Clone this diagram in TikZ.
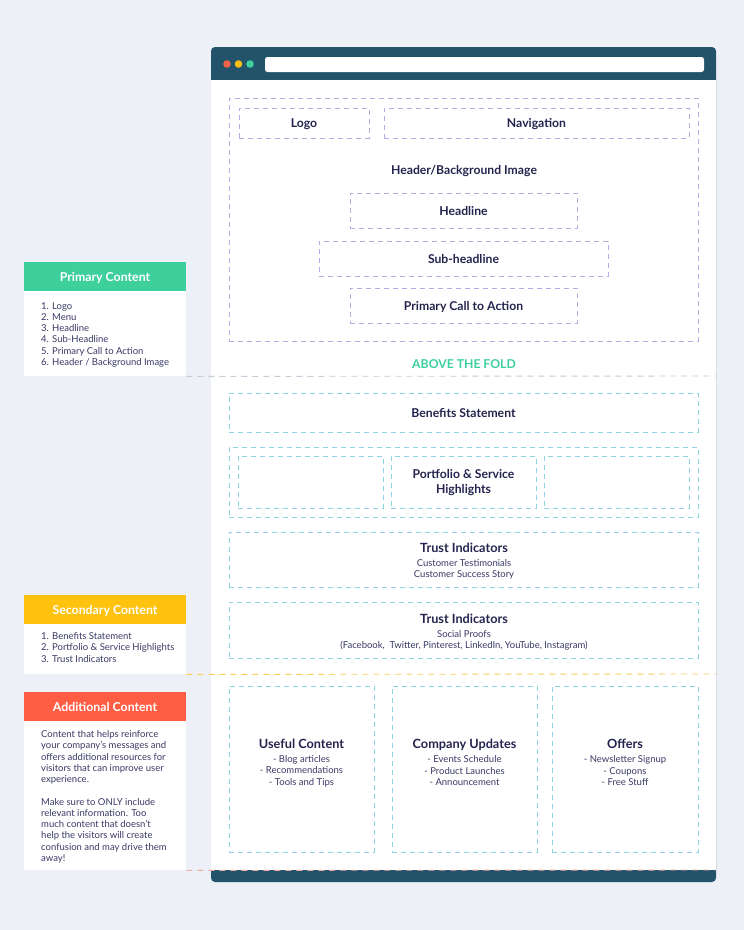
\documentclass[tikz,border=0pt]{standalone}
\usepackage{fontspec}
\setmainfont{Lato}
\definecolor{bgc}{HTML}{EEF0F8}
\definecolor{navy}{HTML}{23526B}
\definecolor{ink}{HTML}{25244F}
\definecolor{inks}{HTML}{3A3A66}
\definecolor{purp}{HTML}{B3ACE4}
\definecolor{cyanl}{HTML}{8ED4E0}
\definecolor{gprim}{HTML}{3DD09C}
\definecolor{ysec}{HTML}{FFC20E}
\definecolor{radd}{HTML}{FF5E45}
\definecolor{dred}{HTML}{F0604A}
\definecolor{dyel}{HTML}{F5C117}
\definecolor{foldg}{HTML}{C8CBD8}
\definecolor{foldy}{HTML}{F7CF5A}
\definecolor{foldr}{HTML}{F2A9A0}
\begin{document}
\begin{tikzpicture}[x=1pt,y=-1pt,
  dsh/.style={dash pattern=on 5pt off 4pt, line width=0.8pt},
  pbox/.style={draw=purp, dsh, text=ink, inner sep=0pt, text depth=0pt, font=\bfseries\fontsize{12.2}{14}\selectfont},
  cbox/.style={draw=cyanl, dsh, text=ink, inner sep=0pt, align=center, font=\bfseries\fontsize{12.2}{14.5}\selectfont},
  ttl/.style={text=ink, inner sep=0pt, align=center, text depth=0pt, font=\bfseries\fontsize{12.7}{15}\selectfont},
  sub/.style={text=inks, inner sep=0pt, align=center, font=\fontsize{9.5}{11.5}\selectfont},
  phead/.style={text=white, inner sep=0pt, text depth=0pt, minimum width=162, minimum height=29.5, font=\bfseries\fontsize{12.3}{14}\selectfont},
  pbody/.style={fill=white, inner sep=0pt, minimum width=162, anchor=north west},
  ptext/.style={text=inks, inner sep=0pt, anchor=north west, align=left, font=\fontsize{9.5}{11.25}\selectfont}
]
\fill[bgc] (0,0) rectangle (744,930);
\useasboundingbox (0,0) rectangle (744,930);
% browser window
\fill[navy, rounded corners=4] (211,47) rectangle (716,882);
\fill[white] (211,80) rectangle (716,870);
\fill[dred] (227,64) circle (3.8);
\fill[dyel] (238.5,64) circle (3.8);
\fill[gprim] (250,64) circle (3.8);
\fill[white, rounded corners=2.5] (265,57) rectangle (704,72);

% header area
\node[pbox, minimum width=469, minimum height=243] (hdr) at (463.5,219.5) {};
\node[pbox, minimum width=130, minimum height=30] (logo) at (304,123) {Logo};
\node[pbox, minimum width=305, minimum height=30] (nav) at (536.5,123) {Navigation};
\node[ttl, font=\bfseries\fontsize{12.2}{14}\selectfont] (hbg) at (464,169.5) {Header/Background Image};
\node[pbox, minimum width=227, minimum height=35] (head) at (463.5,210.5) {Headline};
\node[pbox, minimum width=289, minimum height=35] (subh) at (463.5,258.5) {Sub-headline};
\node[pbox, minimum width=227, minimum height=35] (cta) at (463.5,305.5) {Primary Call to Action};
\node[text=gprim, inner sep=0pt, text depth=0pt, font=\bfseries\fontsize{12.2}{14}\selectfont] (fold) at (464,364.5) {ABOVE THE FOLD};

% secondary area
\node[cbox, text depth=0pt, minimum width=469, minimum height=39] (ben) at (463.5,412.5) {Benefits Statement};
\node[cbox, minimum width=469, minimum height=70] (port) at (463.5,482) {};
\node[cbox, minimum width=145, minimum height=52] (pl) at (310.5,482) {};
\node[cbox, minimum width=145, minimum height=52] (pm) at (463.5,482) {};
\node[cbox, minimum width=145, minimum height=52] (pr) at (616.5,482) {};
\node[ttl, font=\bfseries\fontsize{12.2}{15}\selectfont] (pmt) at (463.5,481.5) {Portfolio \& Service\\Highlights};
\node[cbox, minimum width=469, minimum height=55] (tr1) at (463.5,559.5) {};
\node[ttl] (tr1t) at (464,547.5) {Trust Indicators};
\node[sub] (tr1s) at (464,569.5) {Customer Testimonials\\Customer Success Story};
\node[cbox, minimum width=469, minimum height=56] (tr2) at (463.5,630) {};
\node[ttl] (tr2t) at (464,618.5) {Trust Indicators};
\node[sub] (tr2s) at (464,640.5) {Social Proofs\\(Facebook,\enspace Twitter, Pinterest, LinkedIn, YouTube, Instagram)};

% additional area
\node[cbox, minimum width=145, minimum height=166] (a1) at (301.5,769) {};
\node[cbox, minimum width=145, minimum height=166] (a2) at (464.5,769) {};
\node[cbox, minimum width=146, minimum height=166] (a3) at (625,769) {};
\node[ttl] (a1t) at (301.5,744) {Useful Content};
\node[sub] (a1s) at (301.5,771) {- Blog articles\\- Recommendations\\- Tools and Tips};
\node[ttl] (a2t) at (464.5,744) {Company Updates};
\node[sub] (a2s) at (464.5,771) {- Events Schedule\\- Product Launches\\- Announcement};
\node[ttl] (a3t) at (625,744) {Offers};
\node[sub] (a3s) at (625,771) {- Newsletter Signup\\- Coupons\\- Free Stuff};

% left panels
\node[phead, fill=gprim] (ph) at (105,276.5) {Primary Content};
\node[pbody, minimum height=85] (pb) at (24,291) {};
\node[ptext] (pt) at (41,302) {1. Logo\\2. Menu\\3. Headline\\4. Sub-Headline\\5. Primary Call to Action\\6. Header / Background Image};

\node[phead, fill=ysec] (sh) at (105,610) {Secondary Content};
\node[pbody, minimum height=50] (sb) at (24,624) {};
\node[ptext] (st) at (41,632.5) {1. Benefits Statement\\2. Portfolio \& Service Highlights\\3. Trust Indicators};

\node[phead, fill=radd] (ah) at (105,707) {Additional Content};
\node[pbody, minimum height=149] (ab) at (24,721) {};
\node[ptext] (at) at (41,730.5) {Content that helps reinforce\\your company’s messages and\\offers additional resources for\\visitors that can improve user\\experience.\\[11.25pt]Make sure to ONLY include\\relevant information. Too\\much content that doesn’t\\help the visitors will create\\confusion and may drive them\\away!};

% fold lines
\coordinate (f1) at (716,376);
\coordinate (f2) at (716,674);
\coordinate (f3) at (716,870);
\draw[foldg, dash pattern=on 6pt off 5pt, line width=0.9pt] (pb.south east) -- (f1);
\draw[foldy, dash pattern=on 6pt off 5pt, line width=0.9pt] (sb.south east) -- (f2);
\draw[foldr, dash pattern=on 6pt off 5pt, line width=0.9pt] (ab.south east) -- (f3);
\end{tikzpicture}
\end{document}
